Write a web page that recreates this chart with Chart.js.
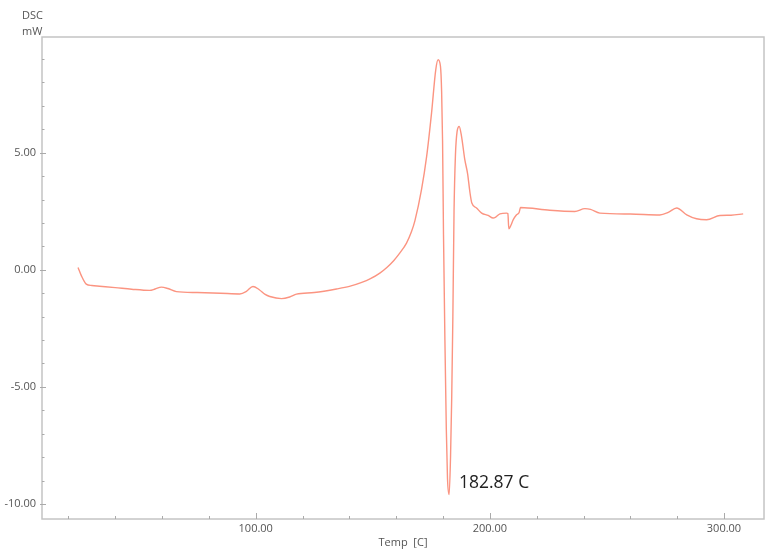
<!DOCTYPE html>
<html>
<head>
<meta charset="utf-8">
<script src="https://cdn.jsdelivr.net/npm/chart.js@4"></script>
<style>
    html, body { margin: 0; padding: 0; background: #fff; }
    #wrap { width: 782px; height: 558px; }
</style>
</head>
<body>
<div id="wrap"><canvas id="dscChart" width="782" height="558"></canvas></div>
<script>
// temperature (C) and heat flow (mW)
const temps = [24.1, 25.5, 27.6, 30, 33.3, 40, 47, 54.7, 57, 59.7, 62.5, 66.1, 75, 85, 93.2, 96, 98.8, 101.5, 104, 106, 111, 114.5, 117.4, 125, 134.5,
    140, 145, 149, 153, 156, 159, 161.5, 164.4, 166.5, 168, 170.8, 173, 175.1, 176.9, 177.9, 178.9, 179.4, 179.8, 180.2, 180.8, 181.4, 181.9, 182.6,
    183.2, 183.7, 184.2, 184.7, 185.3, 186, 186.9, 187.9, 189.3, 190.5, 191.5, 192.3, 194.3, 196.5, 199.3, 201.4, 202.5, 204.3, 207.1, 207.7,
    208.1, 209, 210, 211.4, 212.5, 213.1, 225.6, 236.3, 240.6, 243, 247, 260, 272.6, 276.2, 279.8, 284.1, 288.3, 292.6, 298.3, 303, 308.2];
const dsc = [0.10, -0.25, -0.61, -0.67, -0.70, -0.76, -0.83, -0.88, -0.82, -0.74, -0.80, -0.93, -0.97, -1.00, -1.03, -0.92, -0.71, -0.85, -1.05, -1.14, -1.23, -1.16, -1.04, -0.97, -0.82,
    -0.71, -0.55, -0.38, -0.14, 0.10, 0.40, 0.71, 1.14, 1.62, 2.10, 3.42, 4.84, 6.70, 8.55, 8.97, 8.69, 7.6, 5.5, 1.5, -3.0, -6.8, -8.9, -9.6,
    -8.0, -5.5, -2.0, 2.5, 4.9, 5.9, 6.12, 5.7, 4.7, 4.1, 3.3, 2.85, 2.64, 2.42, 2.32, 2.21, 2.25, 2.39, 2.42, 2.40,
    1.75, 1.90, 2.14, 2.35, 2.45, 2.66, 2.54, 2.49, 2.61, 2.58, 2.42, 2.38, 2.34, 2.45, 2.64, 2.35, 2.18, 2.14, 2.32, 2.33, 2.39];

const xMajor = [100, 200, 300];
const yMajor = [5, 0, -5, -10];
const xMinorStep = 20;
const yMinorStep = 1;
const xRange = [8.7, 317.1];
const yRange = [-10.64, 9.94];

const peakLabel = "182.87 C";
const peakLabelAt = [186.8, -9.1];

const FONT = "'Open Sans', 'Noto Sans', sans-serif";

function stepsBetween(min, max, step) {
    let out = [];
    for (let v = Math.ceil(min / step) * step; v <= max + 1e-9; v += step) out.push(Math.round(v * 100) / 100);
    return out;
}

// ticks are drawn inside the frame, like the instrument software does
const framePlugin = {
    id: 'frame',
    afterDraw(chart) {
        const ctx = chart.ctx;
        const a = chart.chartArea;
        const xs = chart.scales.x, ys = chart.scales.y;
        ctx.save();
        ctx.strokeStyle = '#c4c4c4';
        ctx.lineWidth = 1.5;
        ctx.strokeRect(a.left, a.top, a.right - a.left, a.bottom - a.top);

        ctx.lineWidth = 1;
        ctx.strokeStyle = '#aaaaaa';
        stepsBetween(xRange[0], xRange[1], xMinorStep).forEach(v => {
            const px = Math.round(xs.getPixelForValue(v)) + 0.5;
            const len = xMajor.includes(v) ? 6 : 3;
            ctx.beginPath();
            ctx.moveTo(px, a.bottom);
            ctx.lineTo(px, a.bottom - len);
            ctx.stroke();
        });
        stepsBetween(yRange[0], yRange[1], yMinorStep).forEach(v => {
            const py = Math.round(ys.getPixelForValue(v)) + 0.5;
            const len = yMajor.includes(v) ? 4 : 2.5;
            ctx.beginPath();
            ctx.moveTo(a.left - (yMajor.includes(v) ? 2 : 0), py);
            ctx.lineTo(a.left + len, py);
            ctx.stroke();
        });

        ctx.fillStyle = '#555';
        ctx.font = '11px ' + FONT;
        ctx.textBaseline = 'middle';
        ctx.textAlign = 'left';
        ctx.fillText('DSC', 22, 16);
        ctx.fillText('mW', 22, 32);
        ctx.textAlign = 'center';
        ctx.fillText('Temp  [C]', (a.left + a.right) / 2, 543);

        ctx.fillStyle = '#222';
        ctx.font = '17.5px ' + FONT;
        ctx.textAlign = 'left';
        ctx.fillText(peakLabel, xs.getPixelForValue(peakLabelAt[0]), ys.getPixelForValue(peakLabelAt[1]));
        ctx.restore();
    }
};

window.onload = () => {
    const ctx = document.getElementById('dscChart').getContext('2d');
    new Chart(ctx, {
        type: 'line',
        data: {
            datasets: [{
                data: temps.map((t, i) => ({ x: t, y: dsc[i] })),
                borderColor: '#fb9481',
                borderWidth: 1.4,
                pointRadius: 0,
                cubicInterpolationMode: 'monotone',
                fill: false
            }]
        },
        options: {
            responsive: false,
            animation: false,
            layout: { padding: { left: 0, top: 37, right: 18, bottom: 0 } },
            plugins: { legend: { display: false }, tooltip: { enabled: false } },
            scales: {
                x: {
                    type: 'linear',
                    min: xRange[0], max: xRange[1],
                    grid: { display: false, drawTicks: false },
                    border: { display: false },
                    afterBuildTicks: s => { s.ticks = xMajor.map(v => ({ value: v })); },
                    afterFit: s => { s.height = 39; },
                    ticks: {
                        padding: 3,
                        color: '#555',
                        font: { family: FONT, size: 11 },
                        callback: v => v.toFixed(2)
                    }
                },
                y: {
                    type: 'linear',
                    min: yRange[0], max: yRange[1],
                    grid: { display: false, drawTicks: false },
                    border: { display: false },
                    afterBuildTicks: s => { s.ticks = yMajor.map(v => ({ value: v })); },
                    afterFit: s => { s.width = 42; },
                    ticks: {
                        padding: 6,
                        color: '#555',
                        font: { family: FONT, size: 11 },
                        callback: v => v.toFixed(2)
                    }
                }
            }
        },
        plugins: [framePlugin]
    });
};
</script>
</body>
</html>
